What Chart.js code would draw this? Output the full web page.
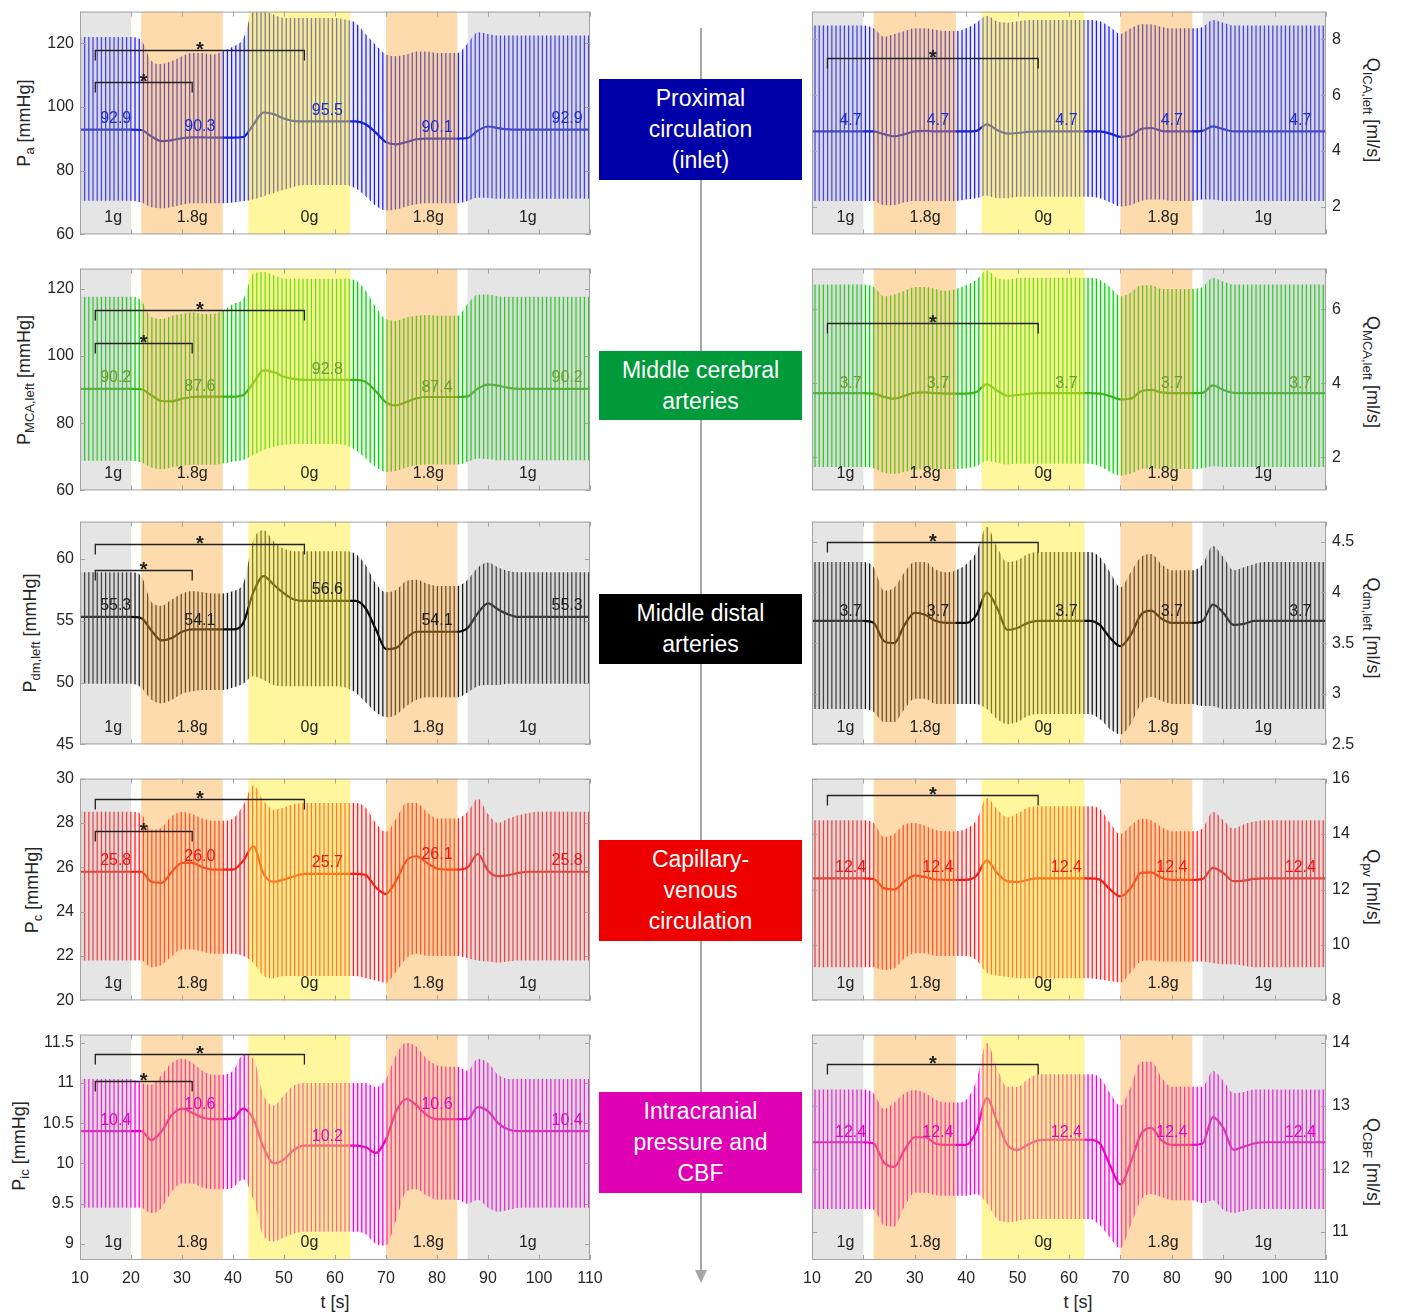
<!DOCTYPE html>
<html lang="en">
<head>
<meta charset="UTF-8">
<title>Cerebral haemodynamics under changing gravity</title>
<script src="https://cdn.jsdelivr.net/npm/chart.js"></script>
<style>
  html, body { margin: 0; padding: 0; background: #fff; }
  #page { position: relative; width: 1402px; height: 1316px; overflow: hidden;
          font-family: "Liberation Sans", Arial, sans-serif; color: #262626; }
  canvas { position: absolute; }
  .ytitle { position: absolute; white-space: nowrap; font-size: 18px; line-height: 20px; }
  .ytitle sub { font-size: 13px; }
  .ytitle.left { transform: translate(-50%, -50%) rotate(-90deg); }
  .ytitle.right { transform: translate(-50%, -50%) rotate(90deg); }
  .box { position: absolute; left: 599px; width: 203px; display: flex; align-items: center;
         justify-content: center; text-align: center; color: #fff; font-size: 23px;
         line-height: 31px; z-index: 2; }
  .xtitle { position: absolute; top: 1292px; font-size: 18px; transform: translateX(-50%); }
  #arrow { position: absolute; left: 0; top: 0; z-index: 1; }
</style>
</head>
<body>
<div id="page">
  <svg id="arrow" width="1402" height="1316">
    <line x1="701" y1="28" x2="701" y2="1272" stroke="#a5a5a5" stroke-width="2"/>
    <polygon points="695,1270 707,1270 701,1283" fill="#a5a5a5"/>
  </svg>

  <div class="ytitle left" style="left:27px;top:123px">P<sub>a</sub> [mmHg]</div>
  <div class="ytitle left" style="left:27px;top:380px">P<sub>MCA,left</sub> [mmHg]</div>
  <div class="ytitle left" style="left:33px;top:633px">P<sub>dm,left</sub> [mmHg]</div>
  <div class="ytitle left" style="left:35px;top:890px">P<sub>c</sub> [mmHg]</div>
  <div class="ytitle left" style="left:22px;top:1146px">P<sub>ic</sub> [mmHg]</div>

  <div class="ytitle right" style="left:1370px;top:110px">Q<sub>ICA,left</sub> [ml/s]</div>
  <div class="ytitle right" style="left:1370px;top:372px">Q<sub>MCA,left</sub> [ml/s]</div>
  <div class="ytitle right" style="left:1370px;top:628px">Q<sub>dm,left</sub> [ml/s]</div>
  <div class="ytitle right" style="left:1370px;top:887px">Q<sub>pv</sub> [ml/s]</div>
  <div class="ytitle right" style="left:1370px;top:1162px">Q<sub>CBF</sub> [ml/s]</div>

  <div class="box" style="top:79px;height:101px;background:#0000a8">Proximal<br>circulation<br>(inlet)</div>
  <div class="box" style="top:351px;height:69px;background:#009a3a">Middle cerebral<br>arteries</div>
  <div class="box" style="top:594px;height:70px;background:#000">Middle distal<br>arteries</div>
  <div class="box" style="top:840px;height:101px;background:#ee0000">Capillary-<br>venous<br>circulation</div>
  <div class="box" style="top:1092px;height:101px;background:#e000b4">Intracranial<br>pressure and<br>CBF</div>

  <div class="xtitle" style="left:335px">t [s]</div>
  <div class="xtitle" style="left:1078px">t [s]</div>
</div>

<script>
  const FONT = '"Liberation Sans", Arial, sans-serif';

  // time grid (s)
  const TIME = [10,12,14,16,18,20,22,24,26,28,30,32,34,36,38,40,42,44,46,48,
                50,52,54,56,58,60,62,64,66,68,70,72,74,76,78,80,82,84,86,88,
                90,92,94,96,98,100,102,104,106,108,110];
  const X_TICKS = [10,20,30,40,50,60,70,80,90,100,110];

  // gravity phases
  const BAND_START = [10, 22, 43, 70, 86];
  const BAND_END = [20, 38, 63, 84, 110];
  const BAND_NAMES = ['1g', '1.8g', '0g', '1.8g', '1g'];
  const BAND_COLORS = ['rgba(170,170,170,0.3)', 'rgba(250,165,50,0.4)', 'rgba(255,236,40,0.45)',
                       'rgba(250,165,50,0.4)', 'rgba(170,170,170,0.3)'];
  const NAME_T = [16.5, 32, 55, 78.3, 97.8];
  const VALUE_T_LEFT = [17, 33.5, 58.5, 80, 105.5];
  const VALUE_T_RIGHT = [17.5, 34.5, 59.5, 80, 105];
  const BRACKET_FROM = 13, LONG_TO = 54, SHORT_TO = 32;

  // ---- P_a
  const PA_TICKS = [60, 80, 100, 120];
  const PA_VALUES = [92.9, 90.3, 95.5, 90.1, 92.9];
  const PA_MEAN = [92.9,92.9,92.9,92.9,92.9,92.9,92.8,90.8,89.3,89.6,
                   90.2,90.5,90.5,90.4,90.4,90.4,90.6,94.5,98.3,97.8,
                   96.4,95.6,95.5,95.5,95.5,95.5,95.5,95.5,94.6,92.0,
                   89.0,88.3,89.0,89.9,90.1,90.1,90.1,90.1,90.3,92.6,
                   93.9,93.4,93.0,92.9,92.9,92.9,92.9,92.9,92.9,92.9,
                   92.9];
  const PA_HI = [122,122,122,122,122,122,121,114.5,113.5,114.5,
                 116,117,117,116.5,117.5,119,121.5,130,130,129,
                 128,128,128,128,128,128,127.5,126.5,123,119.5,
                 116.5,116,116.5,117.5,117.5,117,117,117,120,123.5,
                 123,122.5,122.5,122.5,122.5,122.5,122.5,122.5,122.5,122.5,
                 122.5];
  const PA_LO = [70.6,70.6,70.6,70.6,70.6,70.6,70,68.5,68.2,68.6,
                 69.3,69.8,69.8,69.8,69.8,70,70.5,71,72,73,
                 74,75,75.5,75.5,75.5,75.5,75.5,74.5,72,69,
                 67.5,67.8,68.8,69.5,69.8,69.8,69.8,69.8,70.5,71.5,
                 71.4,71.2,71.2,71.2,71.2,71.2,71.2,71.2,71.2,71.2,
                 71.2];

  // ---- P_MCA,left
  const PMCA_TICKS = [60, 80, 100, 120];
  const PMCA_VALUES = [90.2, 87.6, 92.8, 87.4, 90.2];
  const PMCA_MEAN = [90.2,90.2,90.2,90.2,90.2,90.2,90.1,88.3,86.6,86.5,
                     87.3,87.8,87.9,87.9,87.9,87.9,88.4,92.0,95.7,95.2,
                     93.8,93.1,92.9,92.9,92.9,92.9,92.9,92.9,92.3,89.5,
                     86.2,85.3,86.3,87.4,87.8,87.8,87.8,87.8,88.0,90.3,
                     91.5,91.2,90.5,90.2,90.2,90.2,90.2,90.2,90.2,90.2,
                     90.2];
  const PMCA_HI = [117.6,117.6,117.6,117.6,117.6,117.6,116.5,111.5,111,112,
                   112.5,113,112.5,112.5,113.5,115.5,117,124.5,125,124,
                   123,123,123,123,123,123,123,122.5,119.5,114.5,
                   111,110.5,111.5,112,112.2,112,112,112,115.5,118.3,
                   118.3,117.8,117.6,117.6,117.6,117.6,117.6,117.6,117.6,117.6,
                   117.6];
  const PMCA_LO = [68.8,68.8,68.8,68.8,68.8,68.8,68.3,66.8,66.3,66.8,
                   67.3,67.6,67.6,67.6,68,68.6,69,70.5,72,73,
                   73.5,73.8,73.8,73.8,73.8,73.8,73.5,72,69.5,67,
                   65.5,65.8,66.8,67.5,67.7,67.7,67.7,67.7,68.5,69.5,
                   69.3,69,69,69,69,69,69,69,69,69,
                   69];

  // ---- P_dm,left
  const PDM_TICKS = [45, 50, 55, 60];
  const PDM_VALUES = [55.3, 54.1, 56.6, 54.1, 55.3];
  const PDM_MEAN = [55.3,55.3,55.3,55.3,55.3,55.3,55.2,54.2,53.4,53.6,
                    54.1,54.3,54.3,54.3,54.3,54.3,54.8,57.3,58.6,57.9,
                    57.2,56.7,56.6,56.6,56.6,56.6,56.6,56.6,56.0,54.3,
                    52.7,52.8,53.6,54.1,54.1,54.1,54.1,54.1,54.4,55.6,
                    56.4,55.9,55.5,55.3,55.3,55.3,55.3,55.3,55.3,55.3,
                    55.3];
  const PDM_HI = [58.9,58.9,58.9,58.9,58.9,58.9,58.6,56.5,56.2,56.7,
                  57.2,57.4,57.3,57.2,57.2,57.4,58,61.5,62.3,61.4,
                  60.8,60.6,60.6,60.6,60.6,60.6,60.6,60.4,59.5,58,
                  57.3,57.5,58.2,58.3,58,57.8,57.8,57.8,58.3,59.3,
                  59.7,59.3,59.0,58.9,58.9,58.9,58.9,58.9,58.9,58.9,
                  58.9];
  const PDM_LO = [49.9,49.9,49.9,49.9,49.9,49.9,49.6,48.6,48.3,48.6,
                  49.1,49.3,49.4,49.4,49.4,49.6,49.9,50.5,50.2,49.8,
                  49.7,49.7,49.7,49.7,49.7,49.7,49.6,49.2,48.4,47.6,
                  47.2,47.4,48.1,48.6,48.8,48.8,48.8,48.8,49.2,49.7,
                  49.8,49.8,49.9,49.9,49.9,49.9,49.9,49.9,49.9,49.9,
                  49.9];

  // ---- P_c
  const PC_TICKS = [20, 22, 24, 26, 28, 30];
  const PC_VALUES = [25.8, 26.0, 25.7, 26.1, 25.8];
  const PC_MEAN = [25.8,25.8,25.8,25.8,25.8,25.8,25.8,25.35,25.3,25.8,
                   26.2,26.2,26.0,25.9,25.9,25.9,26.3,26.95,25.7,25.35,
                   25.45,25.6,25.7,25.7,25.7,25.7,25.7,25.7,25.65,25.1,
                   24.8,25.4,26.3,26.5,26.2,25.95,25.9,25.9,26.0,26.6,
                   25.85,25.6,25.65,25.75,25.8,25.8,25.8,25.8,25.8,25.8,
                   25.8];
  const PC_HI = [28.5,28.5,28.5,28.5,28.5,28.5,28.4,27.7,27.8,28.3,
                 28.5,28.4,28.2,28.1,28.1,28.2,28.8,29.7,29.0,28.6,
                 28.7,28.85,28.9,28.9,28.9,28.9,28.9,28.9,28.7,28.0,
                 27.6,28.2,28.9,28.9,28.5,28.2,28.2,28.2,28.5,29.1,
                 28.4,28.0,28.2,28.35,28.45,28.5,28.5,28.5,28.5,28.5,
                 28.5];
  const PC_LO = [21.8,21.8,21.8,21.8,21.8,21.8,21.8,21.5,21.6,22.0,
                 22.3,22.3,22.2,22.1,22.1,22.1,22.0,21.7,21.1,21.0,
                 21.1,21.1,21.1,21.1,21.1,21.1,21.1,21.1,21.0,20.9,
                 20.8,21.3,21.9,22.1,22.0,22.0,22.0,22.0,21.9,21.8,
                 21.75,21.7,21.75,21.8,21.8,21.8,21.8,21.8,21.8,21.8,
                 21.8];

  // ---- P_ic
  const PIC_TICKS = [9, 9.5, 10, 10.5, 11, 11.5];
  const PIC_VALUES = [10.4, 10.6, 10.2, 10.6, 10.4];
  const PIC_MEAN = [10.4,10.4,10.4,10.4,10.4,10.4,10.4,10.29,10.4,10.6,
                    10.68,10.63,10.57,10.55,10.55,10.56,10.68,10.55,10.2,10.0,
                    10.05,10.17,10.22,10.22,10.22,10.22,10.22,10.22,10.2,10.13,
                    10.3,10.65,10.8,10.72,10.6,10.55,10.55,10.55,10.55,10.7,
                    10.65,10.5,10.42,10.4,10.4,10.4,10.4,10.4,10.4,10.4,
                    10.4];
  const PIC_HI = [11.05,11.05,11.05,11.05,11.05,11.05,11.0,10.98,11.1,11.25,
                  11.3,11.25,11.15,11.1,11.1,11.15,11.35,11.3,10.85,10.72,
                  10.85,10.97,11.0,11.0,11.0,11.0,11.0,11.0,11.0,10.95,
                  11.05,11.35,11.5,11.45,11.3,11.22,11.2,11.2,11.15,11.3,
                  11.25,11.1,11.05,11.05,11.05,11.05,11.05,11.05,11.05,11.05,
                  11.05];
  const PIC_LO = [9.45,9.45,9.45,9.45,9.45,9.45,9.45,9.38,9.45,9.65,
                  9.75,9.75,9.7,9.68,9.68,9.7,9.8,9.55,9.1,9.03,
                  9.08,9.13,9.15,9.15,9.15,9.15,9.15,9.15,9.12,9.0,
                  8.98,9.3,9.65,9.68,9.6,9.55,9.55,9.55,9.5,9.55,
                  9.45,9.4,9.42,9.45,9.45,9.45,9.45,9.45,9.45,9.45,
                  9.45];

  // ---- Q_ICA,left
  const QICA_TICKS = [2, 4, 6, 8];
  const QICA_VALUES = [4.7, 4.7, 4.7, 4.7, 4.7];
  const QICA_MEAN = [4.7,4.7,4.7,4.7,4.7,4.7,4.7,4.6,4.52,4.6,
                     4.7,4.72,4.7,4.7,4.7,4.7,4.72,4.95,4.75,4.62,
                     4.64,4.68,4.7,4.7,4.7,4.7,4.7,4.7,4.7,4.62,
                     4.5,4.55,4.78,4.82,4.72,4.7,4.7,4.7,4.72,4.88,
                     4.78,4.7,4.7,4.7,4.7,4.7,4.7,4.7,4.7,4.7,
                     4.7];
  const QICA_HI = [8.5,8.5,8.5,8.5,8.5,8.5,8.4,8.1,8.2,8.3,
                   8.4,8.4,8.35,8.3,8.3,8.4,8.6,8.85,8.65,8.6,
                   8.65,8.7,8.7,8.7,8.7,8.7,8.7,8.7,8.65,8.45,
                   8.2,8.4,8.55,8.55,8.45,8.4,8.4,8.4,8.45,8.7,
                   8.6,8.5,8.5,8.5,8.5,8.5,8.5,8.5,8.5,8.5,
                   8.5];
  const QICA_LO = [2.2,2.2,2.2,2.2,2.2,2.2,2.2,2.05,2.05,2.15,
                   2.2,2.2,2.2,2.2,2.2,2.25,2.3,2.4,2.3,2.3,
                   2.35,2.35,2.35,2.35,2.35,2.35,2.35,2.35,2.3,2.15,
                   2.0,2.05,2.2,2.25,2.25,2.2,2.2,2.2,2.25,2.25,
                   2.2,2.2,2.2,2.2,2.2,2.2,2.2,2.2,2.2,2.2,
                   2.2];

  // ---- Q_MCA,left
  const QMCA_TICKS = [2, 4, 6];
  const QMCA_VALUES = [3.7, 3.7, 3.7, 3.7, 3.7];
  const QMCA_MEAN = [3.73,3.73,3.73,3.73,3.73,3.73,3.72,3.63,3.58,3.66,
                     3.74,3.75,3.73,3.72,3.72,3.72,3.76,3.97,3.8,3.66,
                     3.68,3.71,3.73,3.73,3.73,3.73,3.73,3.73,3.72,3.65,
                     3.56,3.58,3.78,3.82,3.75,3.73,3.73,3.73,3.74,3.94,
                     3.82,3.74,3.73,3.73,3.73,3.73,3.73,3.73,3.73,3.73,
                     3.73];
  const QMCA_HI = [6.67,6.67,6.67,6.67,6.67,6.67,6.6,6.35,6.4,6.5,
                   6.6,6.6,6.55,6.5,6.55,6.65,6.8,7.05,6.85,6.8,
                   6.85,6.85,6.85,6.85,6.85,6.85,6.85,6.85,6.8,6.6,
                   6.35,6.45,6.65,6.65,6.55,6.55,6.55,6.55,6.6,6.85,
                   6.75,6.67,6.67,6.67,6.67,6.67,6.67,6.67,6.67,6.67,
                   6.67];
  const QMCA_LO = [1.73,1.73,1.73,1.73,1.73,1.73,1.7,1.58,1.55,1.6,
                   1.66,1.68,1.68,1.68,1.68,1.7,1.75,1.9,1.85,1.8,
                   1.82,1.82,1.82,1.82,1.82,1.82,1.82,1.82,1.75,1.6,
                   1.5,1.55,1.68,1.7,1.68,1.68,1.68,1.68,1.7,1.75,
                   1.73,1.73,1.73,1.73,1.73,1.73,1.73,1.73,1.73,1.73,
                   1.73];

  // ---- Q_dm,left
  const QDM_TICKS = [2.5, 3, 3.5, 4, 4.5];
  const QDM_VALUES = [3.7, 3.7, 3.7, 3.7, 3.7];
  const QDM_MEAN = [3.72,3.72,3.72,3.72,3.72,3.72,3.7,3.52,3.5,3.68,
                    3.8,3.78,3.72,3.7,3.7,3.7,3.78,4.0,3.85,3.63,
                    3.65,3.7,3.72,3.72,3.72,3.72,3.72,3.72,3.68,3.55,
                    3.47,3.58,3.78,3.82,3.74,3.7,3.7,3.7,3.72,3.88,
                    3.8,3.68,3.69,3.72,3.72,3.72,3.72,3.72,3.72,3.72,
                    3.72];
  const QDM_HI = [4.3,4.3,4.3,4.3,4.3,4.3,4.25,4.02,4.05,4.2,
                  4.3,4.3,4.23,4.2,4.22,4.28,4.4,4.65,4.45,4.3,
                  4.32,4.38,4.4,4.4,4.4,4.4,4.4,4.4,4.35,4.2,
                  4.05,4.2,4.35,4.38,4.28,4.22,4.22,4.22,4.28,4.46,
                  4.35,4.22,4.25,4.28,4.3,4.3,4.3,4.3,4.3,4.3,
                  4.3];
  const QDM_LO = [2.85,2.85,2.85,2.85,2.85,2.85,2.82,2.72,2.72,2.85,
                  2.95,2.95,2.9,2.9,2.9,2.9,2.9,2.85,2.75,2.7,
                  2.72,2.78,2.8,2.8,2.8,2.8,2.8,2.8,2.75,2.65,
                  2.6,2.7,2.9,2.97,2.93,2.9,2.9,2.9,2.88,2.88,
                  2.85,2.85,2.85,2.85,2.85,2.85,2.85,2.85,2.85,2.85,
                  2.85];

  // ---- Q_pv
  const QPV_TICKS = [8, 10, 12, 14, 16];
  const QPV_VALUES = [12.4, 12.4, 12.4, 12.4, 12.4];
  const QPV_MEAN = [12.4,12.4,12.4,12.4,12.4,12.4,12.38,12.05,12.0,12.3,
                    12.5,12.45,12.36,12.35,12.35,12.35,12.5,13.05,12.6,12.3,
                    12.27,12.35,12.4,12.4,12.4,12.4,12.4,12.4,12.35,12.0,
                    11.75,12.05,12.6,12.62,12.42,12.35,12.35,12.35,12.38,12.78,
                    12.6,12.3,12.32,12.38,12.4,12.4,12.4,12.4,12.4,12.4,
                    12.4];
  const QPV_HI = [14.5,14.5,14.5,14.5,14.5,14.5,14.4,13.9,14.0,14.35,
                  14.4,14.3,14.15,14.1,14.1,14.2,14.5,15.3,14.9,14.6,
                  14.75,14.95,15.0,15.0,15.0,15.0,15.0,15.0,14.9,14.4,
                  14.0,14.3,14.55,14.5,14.25,14.1,14.1,14.1,14.2,14.8,
                  14.5,14.2,14.35,14.45,14.5,14.5,14.5,14.5,14.5,14.5,
                  14.5];
  const QPV_LO = [9.2,9.2,9.2,9.2,9.2,9.2,9.2,9.1,9.15,9.5,
                  9.7,9.7,9.6,9.6,9.6,9.6,9.45,9.0,8.9,8.85,
                  8.8,8.8,8.8,8.8,8.8,8.8,8.8,8.8,8.75,8.7,
                  8.65,9.0,9.4,9.45,9.4,9.4,9.4,9.4,9.4,9.35,
                  9.3,9.3,9.25,9.2,9.2,9.2,9.2,9.2,9.2,9.2,
                  9.2];

  // ---- Q_CBF
  const QCBF_TICKS = [11, 12, 13, 14];
  const QCBF_VALUES = [12.4, 12.4, 12.4, 12.4, 12.4];
  const QCBF_MEAN = [12.42,12.42,12.42,12.42,12.42,12.42,12.4,12.1,12.03,12.3,
                     12.5,12.5,12.4,12.38,12.38,12.38,12.6,13.12,12.75,12.38,
                     12.3,12.38,12.45,12.46,12.46,12.46,12.46,12.46,12.4,12.05,
                     11.75,12.1,12.55,12.65,12.45,12.38,12.38,12.38,12.4,12.82,
                     12.65,12.3,12.35,12.4,12.42,12.42,12.42,12.42,12.42,12.42,
                     12.42];
  const QCBF_HI = [13.26,13.26,13.26,13.26,13.26,13.26,13.2,12.95,13.05,13.2,
                   13.25,13.2,13.1,13.05,13.05,13.1,13.4,14.0,13.6,13.3,
                   13.3,13.42,13.5,13.5,13.5,13.5,13.5,13.5,13.45,13.2,
                   13.0,13.3,13.7,13.7,13.45,13.3,13.3,13.3,13.3,13.55,
                   13.4,13.2,13.22,13.26,13.26,13.26,13.26,13.26,13.26,13.26,
                   13.26];
  const QCBF_LO = [11.36,11.36,11.36,11.36,11.36,11.36,11.35,11.1,11.08,11.4,
                   11.62,11.62,11.58,11.57,11.57,11.57,11.6,11.45,11.2,11.15,
                   11.17,11.2,11.2,11.2,11.2,11.2,11.2,11.2,11.1,10.9,
                   10.73,11.1,11.5,11.6,11.55,11.5,11.5,11.5,11.45,11.5,
                   11.35,11.3,11.33,11.36,11.36,11.36,11.36,11.36,11.36,11.36,
                   11.36];

  const COLORS = {
    blue:    { stripe: 'rgb(30,30,230)',  wash: 'rgba(80,80,240,0.12)', mean: 'rgb(10,30,200)',  text: 'rgb(30,45,210)' },
    green:   { stripe: 'rgb(10,205,10)',  wash: 'rgba(60,210,60,0.13)', mean: 'rgb(80,165,25)',  text: 'rgb(105,160,45)' },
    black:   { stripe: 'rgb(20,20,20)',   wash: 'rgba(0,0,0,0.09)',     mean: 'rgb(10,10,10)',   text: 'rgb(30,30,30)' },
    red:     { stripe: 'rgb(255,30,30)',  wash: 'rgba(255,70,70,0.12)', mean: 'rgb(240,25,10)',  text: 'rgb(240,20,20)' },
    magenta: { stripe: 'rgb(240,0,215)',  wash: 'rgba(240,40,220,0.12)', mean: 'rgb(235,0,190)', text: 'rgb(230,0,200)' }
  };

  const ROW_TOP = [10, 267, 520, 777, 1033];
  const ROW_H = [226, 225, 226, 225, 227];

  const PANELS = [
    { row: 0, side: 'left',  min: 60,  max: 130, ticks: PA_TICKS,   vals: PA_VALUES,   mean: PA_MEAN,   hi: PA_HI,   lo: PA_LO,   color: 'blue',    brackets: [118, 108] },
    { row: 1, side: 'left',  min: 60,  max: 126, ticks: PMCA_TICKS, vals: PMCA_VALUES, mean: PMCA_MEAN, hi: PMCA_HI, lo: PMCA_LO, color: 'green',   brackets: [113.7, 103.8] },
    { row: 2, side: 'left',  min: 45,  max: 63,  ticks: PDM_TICKS,  vals: PDM_VALUES,  mean: PDM_MEAN,  hi: PDM_HI,  lo: PDM_LO,  color: 'black',   brackets: [61.2, 59.1] },
    { row: 3, side: 'left',  min: 20,  max: 30,  ticks: PC_TICKS,   vals: PC_VALUES,   mean: PC_MEAN,   hi: PC_HI,   lo: PC_LO,   color: 'red',     brackets: [29.1, 27.65] },
    { row: 4, side: 'left',  min: 8.8, max: 11.6, ticks: PIC_TICKS, vals: PIC_VALUES,  mean: PIC_MEAN,  hi: PIC_HI,  lo: PIC_LO,  color: 'magenta', brackets: [11.36, 11.02] },
    { row: 0, side: 'right', min: 1,   max: 9,   ticks: QICA_TICKS, vals: QICA_VALUES, mean: QICA_MEAN, hi: QICA_HI, lo: QICA_LO, color: 'blue',    brackets: [7.33] },
    { row: 1, side: 'right', min: 1.1, max: 7.1, ticks: QMCA_TICKS, vals: QMCA_VALUES, mean: QMCA_MEAN, hi: QMCA_HI, lo: QMCA_LO, color: 'green',   brackets: [5.63] },
    { row: 2, side: 'right', min: 2.5, max: 4.7, ticks: QDM_TICKS,  vals: QDM_VALUES,  mean: QDM_MEAN,  hi: QDM_HI,  lo: QDM_LO,  color: 'black',   brackets: [4.5] },
    { row: 3, side: 'right', min: 8,   max: 16,  ticks: QPV_TICKS,  vals: QPV_VALUES,  mean: QPV_MEAN,  hi: QPV_HI,  lo: QPV_LO,  color: 'red',     brackets: [15.4] },
    { row: 4, side: 'right', min: 10.55, max: 14.13, ticks: QCBF_TICKS, vals: QCBF_VALUES, mean: QCBF_MEAN, hi: QCBF_HI, lo: QCBF_LO, color: 'magenta', brackets: [13.67] }
  ];

  const pts = arr => TIME.map((t, i) => ({ x: t, y: arr[i] }));

  // dense heartbeat oscillation drawn as thin vertical stripes between the envelopes
  function stripes(c) {
    const cv = document.createElement('canvas');
    cv.width = 21; cv.height = 4;
    const g = cv.getContext('2d');
    g.fillStyle = c.wash;
    g.fillRect(0, 0, 21, 4);
    g.fillStyle = c.stripe;
    for (let k = 0; k < 5; k++) g.fillRect(k * 4.2, 0, 1.25, 4);
    return g.createPattern(cv, 'repeat');
  }

  function decor(p, c) {
    const left = p.side === 'left';
    return {
      id: 'decor',
      afterDatasetsDraw(chart) {
        const { ctx, chartArea: a, scales: { x, y } } = chart;
        ctx.save();

        // gravity phase bands (drawn over the signals)
        BAND_START.forEach((s, i) => {
          const x0 = x.getPixelForValue(s), x1 = x.getPixelForValue(BAND_END[i]);
          ctx.fillStyle = BAND_COLORS[i];
          ctx.fillRect(x0, a.top, x1 - x0, a.bottom - a.top);
        });

        // mean values
        ctx.font = '16px ' + FONT;
        ctx.fillStyle = c.text;
        ctx.textAlign = 'center';
        ctx.textBaseline = 'bottom';
        const vt = left ? VALUE_T_LEFT : VALUE_T_RIGHT;
        p.vals.forEach((v, i) => {
          ctx.fillText(v.toFixed(1), x.getPixelForValue(vt[i]), y.getPixelForValue(v) - 3);
        });

        // frame + inward ticks
        ctx.strokeStyle = '#a3a3a3';
        ctx.lineWidth = 1;
        ctx.strokeRect(a.left + 0.5, a.top + 0.5, a.right - a.left - 1, a.bottom - a.top - 1);
        ctx.beginPath();
        X_TICKS.forEach(v => {
          const px = Math.round(x.getPixelForValue(v)) + 0.5;
          ctx.moveTo(px, a.bottom); ctx.lineTo(px, a.bottom - 5);
          ctx.moveTo(px, a.top); ctx.lineTo(px, a.top + 5);
        });
        p.ticks.forEach(v => {
          const py = Math.round(y.getPixelForValue(v)) + 0.5;
          ctx.moveTo(a.left, py); ctx.lineTo(a.left + 5, py);
          ctx.moveTo(a.right, py); ctx.lineTo(a.right - 5, py);
        });
        ctx.stroke();

        // phase names
        ctx.fillStyle = '#222';
        ctx.textBaseline = 'middle';
        BAND_NAMES.forEach((n, i) => ctx.fillText(n, x.getPixelForValue(NAME_T[i]), a.bottom - 17));

        // significance brackets
        const ends = left ? [LONG_TO, SHORT_TO] : [LONG_TO];
        ctx.strokeStyle = '#222';
        ctx.lineWidth = 1.3;
        ctx.textBaseline = 'alphabetic';
        ctx.font = 'bold 20px ' + FONT;
        p.brackets.forEach((b, i) => {
          const x0 = x.getPixelForValue(BRACKET_FROM), x1 = x.getPixelForValue(ends[i]);
          const by = Math.round(y.getPixelForValue(b)) + 0.5;
          ctx.beginPath();
          ctx.moveTo(x0, by + 10); ctx.lineTo(x0, by); ctx.lineTo(x1, by); ctx.lineTo(x1, by + 10);
          ctx.stroke();
          ctx.fillText('*', (x0 + x1) / 2, by + 5);
        });
        ctx.restore();
      }
    };
  }

  function drawPanel(p) {
    const left = p.side === 'left';
    const last = p.row === ROW_TOP.length - 1;
    const pad = 14, xAxisH = last ? 31 : 0;
    const c = COLORS[p.color];
    const cv = document.createElement('canvas');
    cv.width = left ? 620 : 617;
    cv.height = pad + ROW_H[p.row] + xAxisH + pad;
    cv.style.left = (left ? 0 : 785) + 'px';
    cv.style.top = (ROW_TOP[p.row] - pad) + 'px';
    document.getElementById('page').appendChild(cv);

    new Chart(cv, {
      type: 'line',
      data: {
        datasets: [
          { data: pts(p.hi), fill: '+1', backgroundColor: stripes(c), borderWidth: 0,
            borderColor: 'rgba(0,0,0,0)', pointRadius: 0, cubicInterpolationMode: 'monotone' },
          { data: pts(p.lo), fill: false, borderWidth: 0, borderColor: 'rgba(0,0,0,0)',
            pointRadius: 0, cubicInterpolationMode: 'monotone' },
          { data: pts(p.mean), fill: false, borderColor: c.mean, borderWidth: 2.2,
            pointRadius: 0, cubicInterpolationMode: 'monotone' }
        ]
      },
      options: {
        responsive: false,
        animation: false,
        events: [],
        layout: { padding: { top: pad, bottom: pad, left: left ? 0 : 27, right: left ? 30 : 0 } },
        plugins: { legend: { display: false }, tooltip: { enabled: false } },
        scales: {
          x: {
            type: 'linear', min: 10, max: 110, display: last,
            grid: { display: false, drawTicks: false }, border: { display: false },
            afterBuildTicks: s => { s.ticks = X_TICKS.map(v => ({ value: v })); },
            afterFit: s => { s.height = xAxisH; },
            ticks: { padding: 9, color: '#262626', font: { size: 16, family: FONT },
                     maxRotation: 0, autoSkip: false, callback: v => String(v) }
          },
          y: {
            type: 'linear', position: p.side, min: p.min, max: p.max,
            grid: { display: false, drawTicks: false }, border: { display: false },
            afterBuildTicks: s => { s.ticks = p.ticks.map(v => ({ value: v })); },
            afterFit: s => { s.width = left ? 80 : 76; },
            ticks: { padding: 6, color: '#262626', font: { size: 16, family: FONT },
                     autoSkip: false, callback: v => String(v) }
          }
        }
      },
      plugins: [decor(p, c)]
    });
  }

  PANELS.forEach(drawPanel);
</script>
</body>
</html>
